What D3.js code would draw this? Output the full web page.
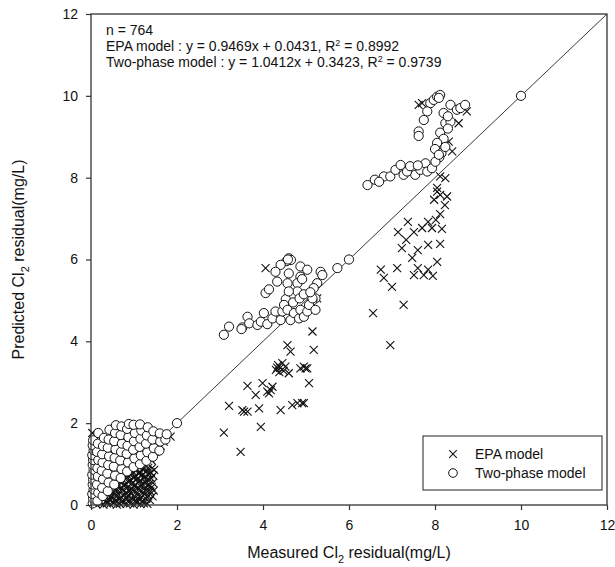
<!DOCTYPE html>
<html><head><meta charset="utf-8">
<script src="https://cdn.jsdelivr.net/npm/d3@7"></script>
<style>
body{margin:0;background:#fff}
svg{display:block}
text{font-family:"Liberation Sans",Arial,Helvetica,sans-serif;fill:#111}
</style>
</head><body>
<svg id="chart" width="615" height="567"></svg>
<script>
const xTicks=[0,2,4,6,8,10,12];
const yTicks=[0,2,4,6,8,10,12];
const seriesNames=["EPA model","Two-phase model"];
const sampleCount="n = 764";
const epaFit={slope:"0.9469",intercept:"0.0431",r2:"0.8992"};
const twoPhaseFit={slope:"1.0412",intercept:"0.3423",r2:"0.9739"};

// EPA model (measured, predicted)
const epaModel=[
[0.12,0.02],[0.21,0.05],[0.29,0.01],[0.37,0.04],[0.44,0.02],[0.52,0.06],[0.6,0.01],[0.67,0.03],[0.75,0.05],[0.83,0.02],[0.91,0.04],[0.99,0.01],[1.07,0.05],[1.15,0.02],[1.23,0.04],[1.31,0.03],
[0.19,0.12],[0.28,0.15],[0.35,0.1],[0.43,0.13],[0.51,0.16],[0.58,0.11],[0.66,0.14],[0.73,0.1],[0.81,0.16],[0.88,0.12],[0.96,0.15],[1.04,0.11],[1.12,0.14],[1.2,0.1],[1.28,0.15],[1.37,0.12],
[0.31,0.22],[0.39,0.25],[0.47,0.21],[0.55,0.26],[0.62,0.23],[0.7,0.2],[0.78,0.25],[0.86,0.22],[0.94,0.27],[1.01,0.21],[1.09,0.24],[1.17,0.2],[1.25,0.26],[1.33,0.23],[1.43,0.21],
[0.42,0.33],[0.5,0.3],[0.58,0.35],[0.66,0.32],[0.74,0.36],[0.82,0.31],[0.9,0.34],[0.98,0.37],[1.05,0.32],[1.13,0.35],[1.21,0.31],[1.29,0.36],[1.38,0.33],[1.46,0.35],
[0.52,0.42],[0.61,0.45],[0.69,0.41],[0.77,0.46],[0.85,0.43],[0.93,0.4],[1.0,0.46],[1.08,0.42],[1.16,0.45],[1.24,0.41],[1.32,0.46],[1.41,0.43],
[0.63,0.52],[0.71,0.55],[0.79,0.51],[0.87,0.56],[0.95,0.53],[1.03,0.5],[1.11,0.56],[1.19,0.52],[1.27,0.55],[1.35,0.51],[1.44,0.54],
[0.74,0.62],[0.83,0.65],[0.91,0.61],[0.99,0.66],[1.07,0.63],[1.15,0.6],[1.23,0.66],[1.31,0.62],[1.4,0.65],
[0.86,0.72],[0.95,0.75],[1.03,0.71],[1.11,0.76],[1.19,0.73],[1.27,0.7],[1.36,0.75],[1.45,0.72],
[0.97,0.82],[1.06,0.85],[1.14,0.81],[1.22,0.86],[1.3,0.83],[1.39,0.8],[1.47,0.86],
[1.02,0.9],[1.12,0.92],[1.21,0.89],[1.33,0.91],[1.42,0.9],
[0.03,1.76],[0.08,0.3],[0.12,0.6],[0.2,0.9],[0.35,1.2],[0.6,1.5],[0.9,1.7],[1.25,1.85],[1.55,1.62],[1.69,1.55],[1.85,1.67],[1.62,1.45],[1.5,1.3],[1.4,1.1],[0.05,0.1],[0.1,0.05],
[3.09,1.77],[3.48,1.30],[3.21,2.42],[3.52,2.32],[3.56,2.28],[3.64,2.28],[3.64,2.91],[3.91,2.36],[3.95,1.91],[3.99,2.98],[3.83,2.69],[4.10,2.77],[4.18,2.81],[4.22,2.89],[4.14,2.73],
[4.41,2.32],[4.68,2.44],[4.80,2.49],[4.91,2.49],[4.95,2.49],[5.07,2.98],[4.87,3.34],[4.95,3.38],[5.03,3.34],[4.99,3.34],[4.60,3.22],
[4.30,3.30],[4.35,3.42],[4.40,3.35],[4.45,3.47],[4.48,3.28],[4.52,3.38],[4.38,3.25],[4.33,3.36],[4.57,3.91],[4.64,3.75],[5.18,3.79],[5.15,4.24],[5.26,5.05],[4.06,5.79],
[6.56,4.69],[7.27,4.89],[6.96,3.91],
[6.74,5.75],[6.81,5.55],[7.0,5.33],[7.12,5.79],[7.23,6.28],[7.33,6.48],[7.47,6.04],[7.51,5.62],[7.6,5.79],[7.74,5.62],[7.84,5.75],[7.95,5.6],[8.05,5.94],[8.12,6.38],
[7.6,6.23],[7.7,6.77],[7.84,6.92],[7.93,6.77],[8.02,6.97],[8.12,7.11],[7.98,7.46],[8.05,7.75],[7.51,6.67],[7.84,6.36],[7.37,6.92],[7.14,6.67],[8.23,7.33],[8.16,6.75],
[8.05,7.66],[8.12,7.58],[8.28,7.54],[8.12,8.03],[8.24,7.99],[8.40,8.64],[8.32,8.88],[8.55,9.33],[8.74,9.62],[7.62,9.78],[7.70,9.82]
];

// Two-phase model (measured, predicted)
const twoPhaseModel=[
[0.04,0.04],[0.05,0.16],[0.03,0.27],[0.06,0.38],[0.04,0.5],[0.05,0.62],[0.03,0.74],[0.06,0.86],[0.04,0.98],[0.05,1.1],[0.03,1.22],[0.06,1.34],[0.04,1.46],[0.05,1.58],
[0.15,0.1],[0.17,0.3],[0.14,0.5],[0.16,0.7],[0.15,0.9],[0.17,1.1],[0.14,1.3],[0.16,1.5],[0.17,1.76],
[0.27,0.22],[0.26,0.42],[0.28,0.63],[0.25,0.84],[0.27,1.04],[0.26,1.24],[0.28,1.44],[0.3,1.64],
[0.39,0.34],[0.41,0.55],[0.38,0.77],[0.4,0.98],[0.42,1.19],[0.39,1.4],[0.41,1.6],[0.43,1.84],
[0.54,0.5],[0.56,0.72],[0.53,0.94],[0.55,1.15],[0.57,1.36],[0.54,1.56],[0.56,1.76],[0.58,1.95],
[0.69,0.66],[0.71,0.88],[0.68,1.09],[0.7,1.3],[0.72,1.5],[0.69,1.71],[0.71,1.92],
[0.84,0.82],[0.86,1.04],[0.83,1.25],[0.85,1.45],[0.87,1.66],[0.84,1.86],[0.88,1.98],
[0.99,0.93],[1.01,1.14],[0.98,1.35],[1.0,1.56],[1.02,1.76],[0.99,1.96],
[1.14,1.0],[1.16,1.21],[1.13,1.42],[1.15,1.62],[1.17,1.82],[1.14,1.97],
[1.29,1.08],[1.31,1.29],[1.28,1.5],[1.3,1.7],[1.32,1.9],
[1.44,1.18],[1.46,1.39],[1.43,1.6],[1.45,1.8],
[1.59,1.33],[1.61,1.55],[1.6,1.75],
[1.73,1.6],[1.76,1.73],[2.0,2.0],
[4.55,5.96],[4.60,6.03],[4.65,5.99],[4.58,6.0],[4.41,5.87],[4.29,5.70],[4.33,5.46],[4.60,5.66],[4.87,5.83],[5.03,5.75],[4.87,5.58],[4.57,5.42],[4.80,5.42],[4.91,5.52],
[4.80,5.22],[4.06,5.18],[4.14,5.27],[4.53,5.03],[4.60,5.22],[5.34,5.70],[5.38,5.62],[5.26,5.42],[5.18,5.30],[5.22,5.05],[5.15,5.0],[5.73,5.79],[6.0,6.0],
[3.09,4.16],[3.21,4.36],[3.52,4.34],[3.50,4.30],[3.64,4.60],[3.68,4.44],[3.87,4.40],[3.95,4.48],[4.02,4.69],[4.1,4.42],[4.22,4.56],[4.29,4.73],[4.41,4.52],[4.45,4.73],
[4.49,4.89],[4.57,4.77],[4.64,4.52],[4.72,4.69],[4.84,4.56],[4.87,4.77],[4.95,4.60],[5.03,4.73],[5.07,4.89],[5.15,5.05],[5.22,4.77],[4.7,4.95],[4.85,5.05],[4.95,5.15],[5.1,5.2],
[7.89,9.82],[7.97,9.90],[8.05,9.98],[8.12,10.02],[8.09,9.95],[7.82,9.62],[7.74,9.41],[7.62,9.13],[7.62,9.02],[8.36,9.78],[8.51,9.66],[8.59,9.70],[8.70,9.78],
[8.20,9.58],[8.24,9.33],[8.36,9.37],[8.30,9.5],[8.12,9.1],[8.2,8.95],[8.05,8.85],[8.0,8.7],[8.15,8.6],[8.24,8.75],[8.1,8.5],[8.3,9.2],
[6.81,8.03],[6.96,8.03],[7.08,8.19],[7.20,8.31],[7.27,8.07],[7.50,8.19],[7.54,8.07],[7.66,8.19],[7.78,8.35],[7.82,8.15],[7.93,8.23],[8.01,8.39],[8.09,8.56],
[7.35,8.15],[7.42,8.28],[7.6,8.3],[6.43,7.82],[6.6,7.95],[6.7,7.9],[10,10]
];

const svg=d3.select("#chart");
const x=d3.scaleLinear().domain([0,12]).range([91,607]);
const y=d3.scaleLinear().domain([0,12]).range([505,14]);
const ink="#111";

// identity line
svg.append("line")
  .attr("x1",x(0)).attr("y1",y(0)).attr("x2",x(12)).attr("y2",y(12))
  .attr("stroke","#222").attr("stroke-width",0.9);

const cross="M-4,-4L4,4M-4,4L4,-4";
svg.append("g").selectAll("path").data(epaModel).join("path")
  .attr("d",cross)
  .attr("transform",d=>`translate(${x(d[0])},${y(d[1])})`)
  .attr("fill","none").attr("stroke",ink).attr("stroke-width",1.1);

svg.append("g").selectAll("circle").data(twoPhaseModel).join("circle")
  .attr("cx",d=>x(d[0])).attr("cy",d=>y(d[1])).attr("r",4.6)
  .attr("fill","#fff").attr("stroke",ink).attr("stroke-width",1);

// frame
svg.append("rect").attr("x",x(0)).attr("y",y(12))
  .attr("width",x(12)-x(0)).attr("height",y(0)-y(12))
  .attr("fill","none").attr("stroke","#333").attr("stroke-width",1.3);

const xAxis=svg.append("g").attr("transform",`translate(0,${y(0)})`)
  .call(d3.axisBottom(x).tickValues(xTicks).tickSize(5).tickPadding(10).tickFormat(d3.format("d")));
const yAxis=svg.append("g").attr("transform",`translate(${x(0)},0)`)
  .call(d3.axisLeft(y).tickValues(yTicks).tickSize(5).tickPadding(8).tickFormat(d3.format("d")));
[xAxis,yAxis].forEach(g=>{
  g.select(".domain").remove();
  g.selectAll(".tick line").attr("stroke","#333").attr("stroke-width",1.2);
  g.selectAll(".tick text").attr("font-size",14).attr("fill",ink)
   .attr("font-family","'Liberation Sans',Arial,sans-serif");
});

// axis titles
function titled(t,parts){
  parts.forEach(p=>{
    const s=t.append("tspan").text(p.text);
    if(p.sub){s.attr("font-size",11).attr("dy",5);}
    else if(p.after){s.attr("dy",-5);}
  });
}
const xt=svg.append("text").attr("x",(x(0)+x(12))/2).attr("y",558)
  .attr("text-anchor","middle").attr("font-size",16);
titled(xt,[{text:"Measured Cl"},{text:"2",sub:true},{text:" residual(mg/L)",after:true}]);
const yt=svg.append("text").attr("transform",`translate(24,${(y(0)+y(12))/2}) rotate(-90)`)
  .attr("text-anchor","middle").attr("font-size",16);
titled(yt,[{text:"Predicted Cl"},{text:"2",sub:true},{text:" residual(mg/L)",after:true}]);

// annotation
svg.append("text").attr("x",106).attr("y",35).attr("font-size",14).text(sampleCount);
[[seriesNames[0],epaFit,51],[seriesNames[1],twoPhaseFit,67]].forEach(([nm,f,yy])=>{
  const t=svg.append("text").attr("x",106).attr("y",yy).attr("font-size",14);
  t.append("tspan").text(`${nm} : y = ${f.slope}x + ${f.intercept}, R`);
  t.append("tspan").attr("font-size",9).attr("dy",-5).text("2");
  t.append("tspan").attr("dy",5).text(` = ${f.r2}`);
});

// legend
const lg=svg.append("g");
lg.append("rect").attr("x",423).attr("y",436).attr("width",179).attr("height",54)
  .attr("fill","#fff").attr("stroke","#333").attr("stroke-width",1.1);
lg.append("path").attr("d",cross).attr("transform","translate(453,454) scale(0.95)")
  .attr("stroke",ink).attr("stroke-width",1.1).attr("fill","none");
lg.append("circle").attr("cx",453).attr("cy",473).attr("r",4.3)
  .attr("fill","#fff").attr("stroke",ink).attr("stroke-width",1);
lg.append("text").attr("x",475).attr("y",459).attr("font-size",14).text(seriesNames[0]);
lg.append("text").attr("x",475).attr("y",478).attr("font-size",14).text(seriesNames[1]);
</script>
</body></html>
